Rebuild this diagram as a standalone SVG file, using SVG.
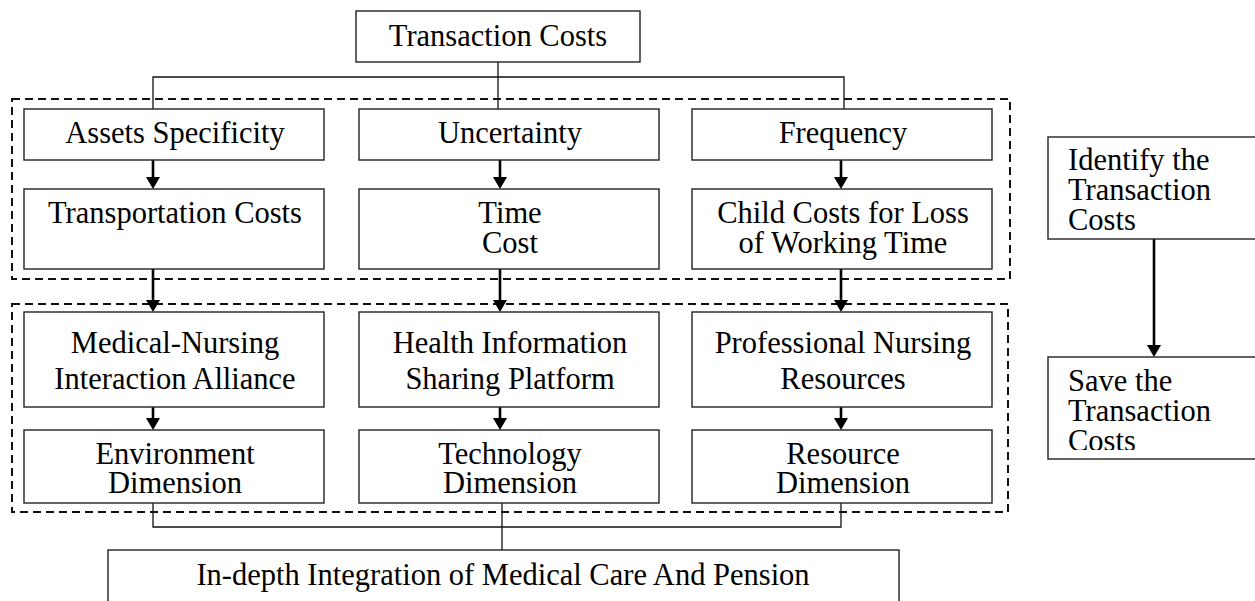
<svg xmlns="http://www.w3.org/2000/svg" width="1255" height="601" viewBox="0 0 1255 601">
  <style>
    .box { fill: #fff; stroke: #222; stroke-width: 1.4; }
    .group { fill: none; stroke: #111; stroke-width: 2; stroke-dasharray: 8 5; }
    .link { fill: none; stroke: #111; stroke-width: 1.3; }
    .flow { fill: none; stroke: #000; stroke-width: 2.6; }
    text { font-family: "Liberation Serif", "Times New Roman", serif; font-size: 30.5px; fill: #000; }
    .c { text-anchor: middle; }
  </style>
  <defs>
    <marker id="head" viewBox="0 0 12 14" refX="2" refY="7" markerWidth="12" markerHeight="14" markerUnits="userSpaceOnUse" orient="auto">
      <path d="M0,0 L12,7 L0,14 z" fill="#000"/>
    </marker>
    <clipPath id="saveClip">
      <rect x="1048" y="357" width="220" height="93"/>
    </clipPath>
  </defs>

  <rect width="1255" height="601" fill="#fff"/>

  <!-- dashed groupings -->
  <rect class="group" x="12" y="99" width="998" height="180"/>
  <rect class="group" x="12" y="304" width="996" height="208"/>

  <!-- connectors -->
  <g id="connectors">
    <!-- root fan-out -->
    <path class="link" d="M498,62 V109"/>
    <path class="link" d="M153,109 V77 H844 V109"/>
    <!-- factor to cost -->
    <path class="flow" d="M153,160 V179" marker-end="url(#head)"/>
    <path class="flow" d="M500,160 V179" marker-end="url(#head)"/>
    <path class="flow" d="M841,160 V179" marker-end="url(#head)"/>
    <!-- cost to measure -->
    <path class="flow" d="M153,269 V302" marker-end="url(#head)"/>
    <path class="flow" d="M500,269 V302" marker-end="url(#head)"/>
    <path class="flow" d="M841,269 V302" marker-end="url(#head)"/>
    <!-- measure to dimension -->
    <path class="flow" d="M153,407 V420" marker-end="url(#head)"/>
    <path class="flow" d="M500,407 V420" marker-end="url(#head)"/>
    <path class="flow" d="M841,407 V420" marker-end="url(#head)"/>
    <!-- dimensions merge -->
    <path class="link" d="M153,503 V527 H841 V503"/>
    <path class="link" d="M502,503 V550"/>
    <!-- side legend -->
    <path class="flow" d="M1154,239 V347" marker-end="url(#head)"/>
  </g>

  <g id="transaction-costs">
    <rect class="box" x="356" y="11" width="284" height="51"/>
    <text class="c" x="498" y="46">Transaction Costs</text>
  </g>

  <g id="assets-specificity">
    <rect class="box" x="24" y="109" width="300" height="51"/>
    <text class="c" x="175" y="143">Assets Specificity</text>
  </g>
  <g id="uncertainty">
    <rect class="box" x="359" y="109" width="300" height="51"/>
    <text class="c" x="510" y="143">Uncertainty</text>
  </g>
  <g id="frequency">
    <rect class="box" x="692" y="109" width="300" height="51"/>
    <text class="c" x="843" y="143">Frequency</text>
  </g>

  <g id="transportation-costs">
    <rect class="box" x="24" y="189" width="300" height="80"/>
    <text class="c" x="175" y="223">Transportation Costs</text>
  </g>
  <g id="time-cost">
    <rect class="box" x="359" y="189" width="300" height="80"/>
    <text class="c" x="510" y="223">Time</text>
    <text class="c" x="510" y="253">Cost</text>
  </g>
  <g id="child-costs">
    <rect class="box" x="692" y="189" width="300" height="80"/>
    <text class="c" x="843" y="223">Child Costs for Loss</text>
    <text class="c" x="843" y="253">of Working Time</text>
  </g>

  <g id="medical-nursing">
    <rect class="box" x="24" y="312" width="300" height="95"/>
    <text class="c" x="175" y="353">Medical-Nursing</text>
    <text class="c" x="175" y="389">Interaction Alliance</text>
  </g>
  <g id="health-information">
    <rect class="box" x="359" y="312" width="300" height="95"/>
    <text class="c" x="510" y="353">Health Information</text>
    <text class="c" x="510" y="389">Sharing Platform</text>
  </g>
  <g id="professional-nursing">
    <rect class="box" x="692" y="312" width="300" height="95"/>
    <text class="c" x="843" y="353">Professional Nursing</text>
    <text class="c" x="843" y="389">Resources</text>
  </g>

  <g id="environment-dimension">
    <rect class="box" x="24" y="430" width="300" height="73"/>
    <text class="c" x="175" y="464">Environment</text>
    <text class="c" x="175" y="493">Dimension</text>
  </g>
  <g id="technology-dimension">
    <rect class="box" x="359" y="430" width="300" height="73"/>
    <text class="c" x="510" y="464">Technology</text>
    <text class="c" x="510" y="493">Dimension</text>
  </g>
  <g id="resource-dimension">
    <rect class="box" x="692" y="430" width="300" height="73"/>
    <text class="c" x="843" y="464">Resource</text>
    <text class="c" x="843" y="493">Dimension</text>
  </g>

  <g id="in-depth-integration">
    <rect class="box" x="108" y="550" width="791" height="70"/>
    <text class="c" x="503" y="585">In-depth Integration of Medical Care And Pension</text>
  </g>

  <g id="identify">
    <rect class="box" x="1048" y="137" width="220" height="102"/>
    <text x="1068" y="170">Identify the</text>
    <text x="1068" y="200">Transaction</text>
    <text x="1068" y="230">Costs</text>
  </g>

  <g id="save">
    <rect class="box" x="1048" y="357" width="220" height="102"/>
    <g clip-path="url(#saveClip)">
      <text x="1068" y="391">Save the</text>
      <text x="1068" y="421">Transaction</text>
      <text x="1068" y="451">Costs</text>
    </g>
  </g>
</svg>
